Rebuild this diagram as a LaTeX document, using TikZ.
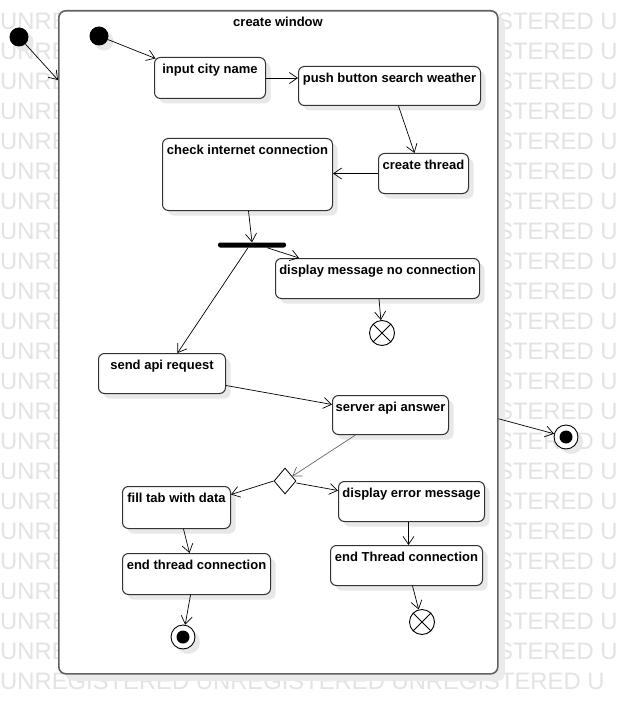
\documentclass[tikz,border=0pt]{standalone}
\usepackage{fontspec}
\setmainfont{Liberation Sans}
\usetikzlibrary{arrows.meta,shapes.geometric,shadows}

% activity box: name, x, y (top left), width, height, text
\newcommand\actbox[6]{%
  \node[act, anchor=north west, minimum width=#4pt, minimum height=#5pt] (#1) at (#2,#3) {};
  \node[anchor=base, inner sep=0pt] (#1-t) at ([yshift=-16.5pt]#1.north) {#6};
}

\begin{document}
\begin{tikzpicture}[x=1pt, y=-1pt,
  font=\fontsize{13}{15}\selectfont\bfseries,
  wm/.style={font=\fontsize{23.8}{26}\selectfont, text=black!11, inner sep=0pt, anchor=base west},
  shade/.style={drop shadow={shadow xshift=5pt, shadow yshift=-5pt, fill=black!9, opacity=1}},
  act/.style={draw=black!80, line width=1pt, rounded corners=6pt, fill=white, inner sep=0pt, shade},
  frame/.style={draw=black!62, line width=1.6pt, rounded corners=7pt, fill=white, inner sep=0pt,
    drop shadow={shadow xshift=7pt, shadow yshift=-7pt, fill=black!8, opacity=1}},
  arr/.style={draw=black, line width=0.7pt, -{Straight Barb[length=8pt, width=11pt, line width=0.7pt]}},
  start/.style={circle, fill=black, minimum size=19pt, inner sep=0pt, shade},
  finish/.style={circle, draw=black, line width=0.9pt, fill=white, minimum size=24pt, inner sep=0pt, shade,
    path picture={\fill[black] (path picture bounding box.center) circle (6.5pt);}},
  flowend/.style={circle, draw=black, line width=0.9pt, fill=white, minimum size=25pt, inner sep=0pt,
    path picture={
      \draw[line width=0.9pt] ([shift={(-10,-10)}]path picture bounding box.center) -- ([shift={(10,10)}]path picture bounding box.center);
      \draw[line width=0.9pt] ([shift={(-10,10)}]path picture bounding box.center) -- ([shift={(10,-10)}]path picture bounding box.center);}},
]
\useasboundingbox (0,0) rectangle (619,714);
\clip (0,0) rectangle (619,714);
\fill[white] (0,0) rectangle (619,714);

% background lettering, visible beside the enclosing activity
\foreach \k in {0,...,21}{
  \node[wm] (wmL\k) at (0,{29.7+30*\k}) {UNRE};
  \node[wm] (wmR\k) at (497,{29.7+30*\k}) {STERED U};
}
\node[wm] (wmB) at (0,689.7) {UNREGISTERED UNREGISTERED UNREGISTERED U};

% enclosing activity
\node[frame, anchor=north west, minimum width=439pt, minimum height=663pt] (frame) at (58,10) {};
\node[anchor=base, inner sep=0pt] (title) at (278,26.5) {create window};

% start and end points
\node[start] (init1) at (19,37) {};
\node[start] (init2) at (99,36) {};
\node[finish] (fin2) at (566,437) {};
\node[finish] (fin1) at (183,637) {};
\node[flowend] (ff1) at (382,333) {};
\node[flowend] (ff2) at (422,622) {};

% actions
\actbox{input}{154}{57}{111}{41}{input city name}
\actbox{push}{298}{66}{182}{39}{push button search weather}
\actbox{cthread}{378}{153}{90}{40}{create thread}
\actbox{check}{162}{138}{170}{72}{check internet connection}
\actbox{dispmsg}{275}{258}{204}{40}{display message no connection}
\actbox{sendapi}{98}{353}{127}{40}{send api request}
\actbox{server}{332}{395}{116}{39}{server api answer}
\actbox{filltab}{122}{486}{108}{42}{fill tab with data}
\actbox{disperr}{338}{481}{146}{40}{display error message}
\actbox{endthr}{122}{553}{148}{41}{end thread connection}
\actbox{endthrB}{330}{545}{152}{40}{end Thread connection}

% fork bar and decision
\node[fill=black, minimum width=68pt, minimum height=5pt, inner sep=0pt, rounded corners=2.2pt] (fork) at (252,245) {};
\node[diamond, draw=black, line width=0.8pt, fill=white, minimum width=22pt, minimum height=26pt, inner sep=0pt] (dec) at (285,481) {};

% flows
\draw[arr] (init1) -- ([yshift=-70pt]frame.north west);
\draw[arr] (init2) -- ([xshift=1.5pt, yshift=-1.5pt]input.north west);
\draw[arr] (input.east) -- (input.east -| push.west);
\draw[arr] ([xshift=9pt]push.south) -- ([xshift=-9pt]cthread.north);
\draw[arr] (cthread.west) -- (cthread.west -| check.east);
\draw[arr] ([xshift=1pt]check.south) -- (fork.north);
\draw[arr] ([xshift=15pt]fork.south) -- ([xshift=-78.5pt]dispmsg.north);
\draw[arr] ([xshift=-4pt]fork.south) -- ([xshift=15.5pt]sendapi.north);
\draw[arr] ([xshift=1.5pt]dispmsg.south) -- (ff1);
\draw[arr] ([yshift=-12pt]sendapi.east) -- ([yshift=10.5pt]server.west);
\draw[arr, draw=black!60] ([xshift=-35pt]server.south) -- (dec);
\draw[arr] (dec.west) -- ([yshift=13pt]filltab.east);
\draw[arr] ([yshift=-2pt]dec.east) -- ([yshift=11pt]disperr.west);
\draw[arr] ([xshift=7pt]filltab.south) -- ([xshift=-7pt]endthr.north);
\draw[arr] ([xshift=-3pt]disperr.south) -- ([xshift=2pt]endthrB.north);
\draw[arr] ([xshift=-6pt]endthr.south) -- (fin1);
\draw[arr] ([xshift=6pt]endthrB.south) -- (ff2);
\draw[arr] ([yshift=-76.5pt]frame.east) -- (fin2);
\end{tikzpicture}
\end{document}
